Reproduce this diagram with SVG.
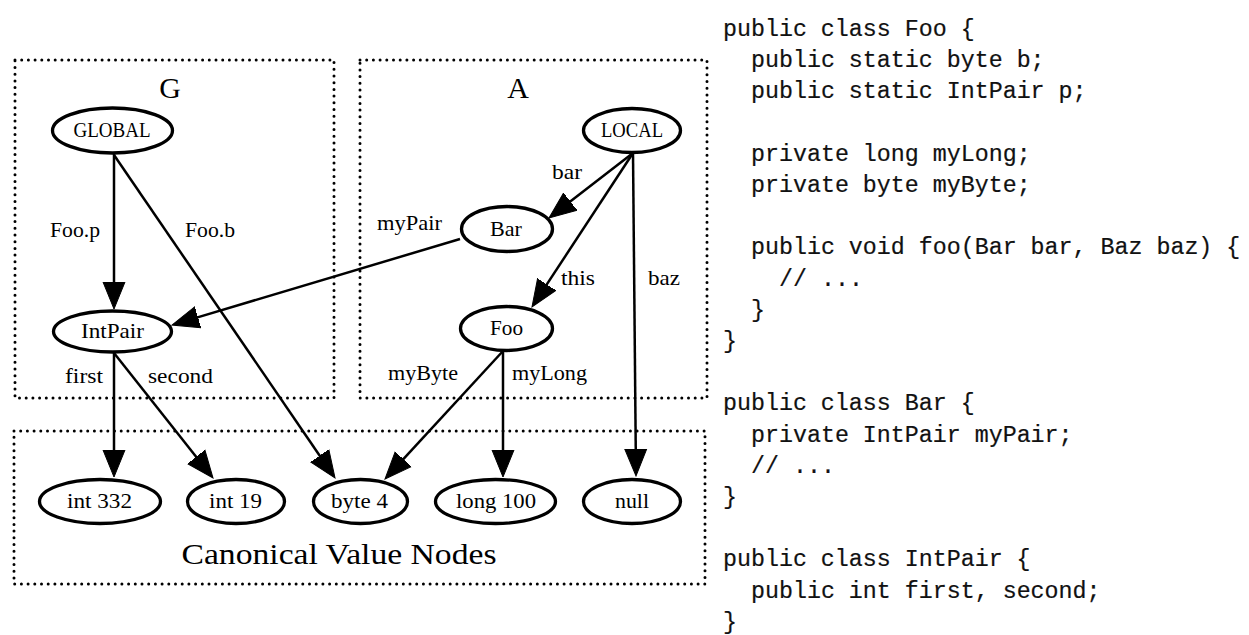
<svg xmlns="http://www.w3.org/2000/svg" width="1249" height="635" viewBox="0 0 1249 635">
  <style>
    .cluster { fill: none; stroke: #000; stroke-width: 3; stroke-dasharray: 0 6.7; stroke-linecap: round; }
    .node ellipse { fill: #fff; stroke: #000; stroke-width: 3.3; }
    .lbl { font-family: "Liberation Serif", "DejaVu Serif", serif; font-size: 21px; fill: #000; text-anchor: middle; }
    .elbl { font-family: "Liberation Serif", "DejaVu Serif", serif; font-size: 21px; fill: #000; }
    .title { font-family: "Liberation Serif", "DejaVu Serif", serif; font-size: 30px; fill: #000; text-anchor: middle; }
    .edge { stroke: #000; stroke-width: 2.5; fill: none; marker-end: url(#head); }
    .code { font-family: "Liberation Mono", "DejaVu Sans Mono", monospace; font-size: 23.3px; fill: #111; stroke: #111; stroke-width: 0.2; }
  </style>
  <defs>
    <marker id="head" markerUnits="userSpaceOnUse" markerWidth="30" markerHeight="26" viewBox="0 -13 30 26" refX="3" refY="0" orient="auto">
      <path d="M0,-11 L27,0 L0,11 z" fill="#000" stroke="#000" stroke-width="1"/>
    </marker>
  </defs>

  <!-- clusters -->
  <g id="cluster-G">
    <rect class="cluster" x="15" y="60" width="319" height="338"/>
    <text class="title" x="170" y="98">G</text>
  </g>
  <g id="cluster-A">
    <rect class="cluster" x="360" y="60" width="347" height="338"/>
    <text class="title" x="518" y="98">A</text>
  </g>
  <g id="cluster-values">
    <rect class="cluster" x="14" y="431" width="691" height="153"/>
    <text class="title" x="339" y="564" font-size="34" textLength="315" lengthAdjust="spacingAndGlyphs">Canonical Value Nodes</text>
  </g>

  <!-- connectors -->
  <g id="edges">
    <line class="edge" x1="114" y1="154" x2="114" y2="285"/>
    <line class="edge" x1="114" y1="155" x2="321.45" y2="458.19"/>
    <line class="edge" x1="114" y1="353" x2="114" y2="453"/>
    <line class="edge" x1="114" y1="353" x2="198.1" y2="459.19"/>
    <line class="edge" x1="633" y1="153" x2="567.98" y2="203.31"/>
    <line class="edge" x1="633" y1="153" x2="545.16" y2="286.93"/>
    <line class="edge" x1="633" y1="153" x2="635.78" y2="452"/>
    <line class="edge" x1="460" y1="239" x2="195" y2="318.13"/>
    <line class="edge" x1="503" y1="351" x2="401.27" y2="461.36"/>
    <line class="edge" x1="503" y1="351" x2="503" y2="453"/>
    <text class="elbl" x="50" y="236.5" textLength="50" lengthAdjust="spacingAndGlyphs">Foo.p</text>
    <text class="elbl" x="185" y="236.5" textLength="50" lengthAdjust="spacingAndGlyphs">Foo.b</text>
    <text class="elbl" x="65" y="383" textLength="38" lengthAdjust="spacingAndGlyphs">first</text>
    <text class="elbl" x="148" y="383" textLength="65" lengthAdjust="spacingAndGlyphs">second</text>
    <text class="elbl" x="552" y="179" textLength="30" lengthAdjust="spacingAndGlyphs">bar</text>
    <text class="elbl" x="377" y="230" textLength="65" lengthAdjust="spacingAndGlyphs">myPair</text>
    <text class="elbl" x="561" y="285" textLength="34" lengthAdjust="spacingAndGlyphs">this</text>
    <text class="elbl" x="648" y="285" textLength="32" lengthAdjust="spacingAndGlyphs">baz</text>
    <text class="elbl" x="388" y="380" textLength="70" lengthAdjust="spacingAndGlyphs">myByte</text>
    <text class="elbl" x="512" y="380" textLength="75" lengthAdjust="spacingAndGlyphs">myLong</text>
  </g>

  <!-- nodes -->
  <g id="node-global" class="node">
    <ellipse cx="112.5" cy="130.5" rx="60" ry="22.5"/>
    <text class="lbl" x="112" y="137" textLength="77" lengthAdjust="spacingAndGlyphs">GLOBAL</text>
  </g>
  <g id="node-intpair" class="node">
    <ellipse cx="112.5" cy="331.5" rx="59" ry="20.5"/>
    <text class="lbl" x="112.5" y="338" textLength="63" lengthAdjust="spacingAndGlyphs">IntPair</text>
  </g>
  <g id="node-local" class="node">
    <ellipse cx="632" cy="130.5" rx="48.5" ry="22"/>
    <text class="lbl" x="632" y="137" textLength="62" lengthAdjust="spacingAndGlyphs">LOCAL</text>
  </g>
  <g id="node-bar" class="node">
    <ellipse cx="507" cy="229" rx="45.5" ry="22.5"/>
    <text class="lbl" x="506" y="236" textLength="32" lengthAdjust="spacingAndGlyphs">Bar</text>
  </g>
  <g id="node-foo" class="node">
    <ellipse cx="506.5" cy="328.5" rx="46" ry="22"/>
    <text class="lbl" x="506.5" y="335" textLength="33" lengthAdjust="spacingAndGlyphs">Foo</text>
  </g>
  <g id="node-int332" class="node">
    <ellipse cx="100" cy="501.5" rx="60.5" ry="22"/>
    <text class="lbl" x="99.5" y="508" textLength="65" lengthAdjust="spacingAndGlyphs">int 332</text>
  </g>
  <g id="node-int19" class="node">
    <ellipse cx="236" cy="501.5" rx="48.5" ry="22"/>
    <text class="lbl" x="235.5" y="508" textLength="53" lengthAdjust="spacingAndGlyphs">int 19</text>
  </g>
  <g id="node-byte4" class="node">
    <ellipse cx="360.5" cy="501.5" rx="47" ry="22"/>
    <text class="lbl" x="359.5" y="508" textLength="57" lengthAdjust="spacingAndGlyphs">byte 4</text>
  </g>
  <g id="node-long100" class="node">
    <ellipse cx="495.5" cy="501.5" rx="60" ry="22"/>
    <text class="lbl" x="496" y="508" textLength="80" lengthAdjust="spacingAndGlyphs">long 100</text>
  </g>
  <g id="node-null" class="node">
    <ellipse cx="632" cy="501.5" rx="48.5" ry="22"/>
    <text class="lbl" x="632" y="508" textLength="34" lengthAdjust="spacingAndGlyphs">null</text>
  </g>

  <!-- Java source listing -->
  <g id="source">
    <text class="code" x="723" y="36">public class Foo {</text>
    <text class="code" x="751" y="67.2">public static byte b;</text>
    <text class="code" x="751" y="98.4">public static IntPair p;</text>
    <text class="code" x="751" y="160.8">private long myLong;</text>
    <text class="code" x="751" y="192">private byte myByte;</text>
    <text class="code" x="751" y="254.4">public void foo(Bar bar, Baz baz) {</text>
    <text class="code" x="779" y="285.6">// ...</text>
    <text class="code" x="751" y="316.8">}</text>
    <text class="code" x="723" y="348">}</text>
    <text class="code" x="723" y="410.4">public class Bar {</text>
    <text class="code" x="751" y="441.6">private IntPair myPair;</text>
    <text class="code" x="751" y="472.8">// ...</text>
    <text class="code" x="723" y="504">}</text>
    <text class="code" x="723" y="566.4">public class IntPair {</text>
    <text class="code" x="751" y="597.6">public int first, second;</text>
    <text class="code" x="723" y="628.8">}</text>
  </g>
</svg>
